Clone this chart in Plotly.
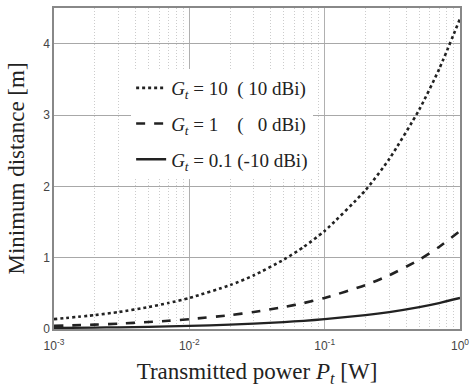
import plotly.graph_objects as go

pt = [0.001, 0.002, 0.003, 0.005, 0.007, 0.01, 0.02, 0.03, 0.05, 0.07,
      0.1, 0.2, 0.3, 0.5, 0.7, 1.0]
d_g10 = [0.138, 0.195, 0.238, 0.308, 0.364, 0.435, 0.615, 0.753, 0.973, 1.151,
         1.375, 1.945, 2.383, 3.076, 3.640, 4.35]
d_g1 = [0.0435, 0.0615, 0.0753, 0.0973, 0.115, 0.1375, 0.1945, 0.238, 0.308, 0.364,
        0.435, 0.615, 0.753, 0.972, 1.150, 1.375]
d_g01 = [0.0138, 0.0195, 0.0238, 0.0308, 0.0364, 0.0435, 0.0615, 0.0753, 0.0973, 0.115,
         0.1375, 0.1945, 0.238, 0.308, 0.364, 0.435]
names = ["<i>G<sub>t</sub></i> = 10\u00a0\u00a0( 10 dBi)",
         "<i>G<sub>t</sub></i> = 1\u00a0\u00a0\u00a0\u00a0(\u00a0\u00a0\u00a00 dBi)",
         "<i>G<sub>t</sub></i> = 0.1 (-10 dBi)"]
x_tickvals = [0.001, 0.01, 0.1, 1]
x_ticktext = ["10<sup>-3</sup>", "10<sup>-2</sup>", "10<sup>-1</sup>", "10<sup>0</sup>"]
y_tickvals = [0, 1, 2, 3, 4]

series = [(d_g10, "dot", 2.6), (d_g1, "dash", 2.6), (d_g01, "solid", 2.3)]

fig = go.Figure()
for i, (ys, dash, w) in enumerate(series):
    fig.add_trace(go.Scatter(
        x=pt, y=ys, mode="lines", name=names[i], legendgroup=f"g{i}",
        line=dict(color="#222222", dash=dash, width=w, shape="spline", smoothing=0.6),
    ))

serif = "Liberation Serif, Times New Roman, serif"
fig.update_layout(
    width=475, height=391,
    margin=dict(l=54, r=13, t=6, b=62),
    paper_bgcolor="white", plot_bgcolor="white",
    showlegend=True,
    legend=dict(x=0.19, y=0.81, xanchor="left", yanchor="top",
                bgcolor="rgba(255,255,255,1)", borderwidth=0,
                font=dict(family=serif, size=19, color="#222222"),
                traceorder="grouped", tracegroupgap=8),
    xaxis=dict(type="log", range=[-3, 0],
               tickvals=x_tickvals, ticktext=x_ticktext,
               tickfont=dict(family="Liberation Sans", size=12, color="#444444"),
               ticklabelstandoff=5,
               showgrid=True, gridcolor="#b0b0b0", gridwidth=1,
               showline=True, linecolor="#888888", linewidth=1.5, mirror=True,
               ticks="", zeroline=False,
               minor=dict(dtick="D1", showgrid=True, gridcolor="#cccccc",
                          griddash="1px,2px", gridwidth=1, ticks=""),
               title=dict(text="Transmitted power <i>P<sub>t</sub></i> [W]",
                          font=dict(family=serif, size=23, color="#222222"),
                          standoff=11)),
    yaxis=dict(range=[0, 4.5], tickvals=y_tickvals,
               tickfont=dict(family="Liberation Sans", size=12, color="#444444"),
               showgrid=True, gridcolor="#a8a8a8", gridwidth=1,
               showline=True, linecolor="#888888", linewidth=1.5, mirror=True,
               ticks="", zeroline=False,
               title=dict(text="Minimum distance [m]",
                          font=dict(family=serif, size=23, color="#222222"),
                          standoff=12)),
)
fig.write_html("out.html")
